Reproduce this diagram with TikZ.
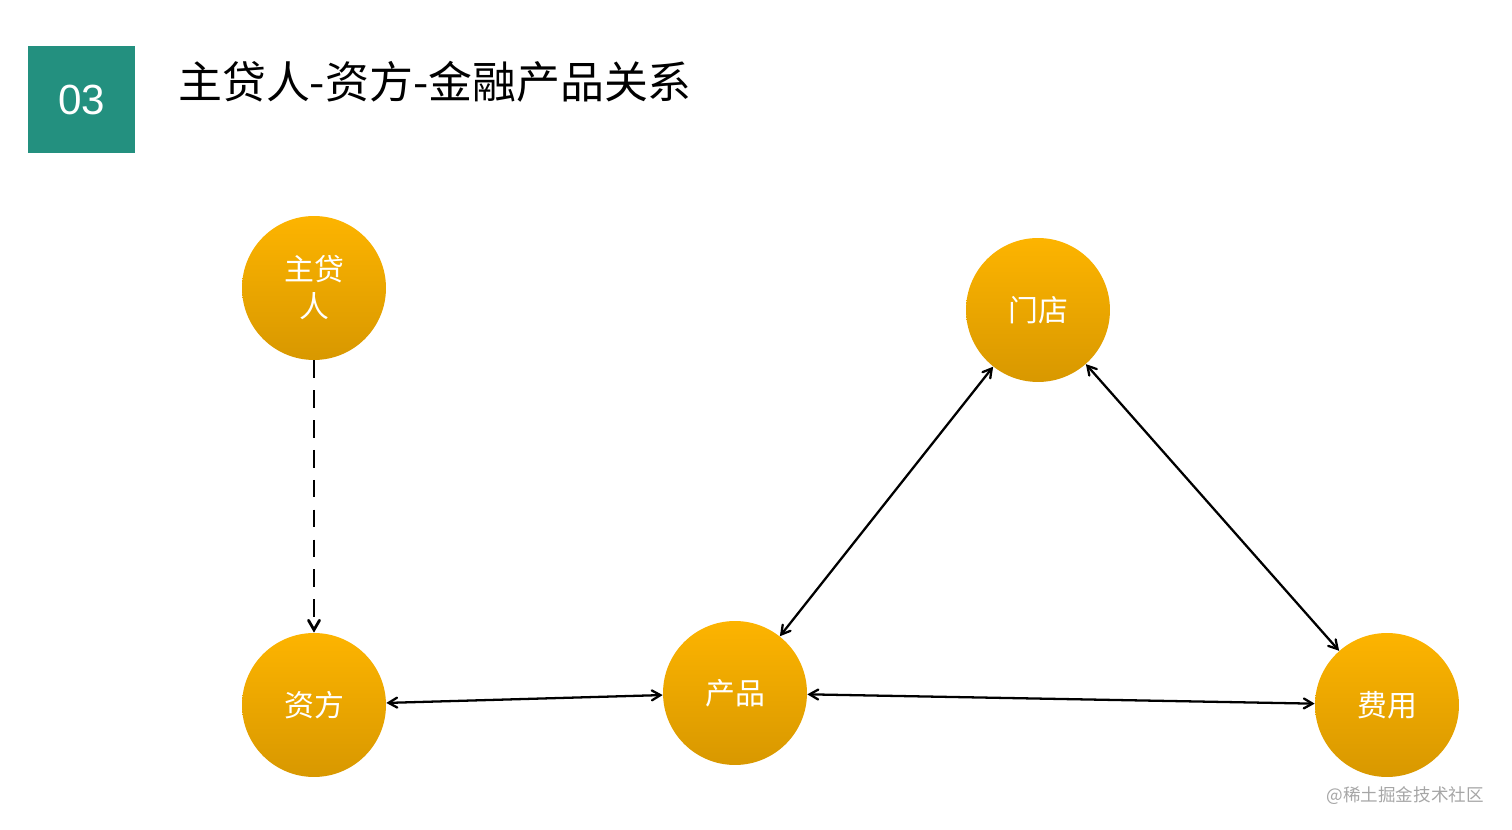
\documentclass[tikz,border=0pt]{standalone}
\usepackage{fontspec}
\setmainfont{Liberation Sans}
\newfontfamily\cjk{Noto Sans CJK SC}
\usetikzlibrary{arrows}
\definecolor{tealbox}{HTML}{23907F}
\definecolor{orangetop}{HTML}{FDB400}
\definecolor{orangebot}{HTML}{D89800}
\tikzstyle{entity} = [circle, minimum size=2.88cm, inner sep=0pt, top color=orangetop,
bottom color=orangebot, draw=none, text=white, align=center,
font=\cjk\fontsize{17}{21}\selectfont]
\tikzstyle{link} = [line width=1.3pt, <->, >=angle 60]

\begin{document}
\begin{tikzpicture}[x=0.02cm, y=-0.02cm]
\useasboundingbox (0,0) rectangle (1512,830);

% ------------------------- header -------------------------
\node(tag)[fill=tealbox, minimum size=2.14cm, inner sep=0pt, text=white,
font=\fontsize{24}{28}\selectfont] at (81.5,99.5) {03};
\node(title)[anchor=west, font=\cjk\fontsize{25}{30}\selectfont] at (172,82) {主贷人-资方-金融产品关系};

% ------------------------- nodes -------------------------
\node(lender)[entity] at (314,288) {主贷\\人};
\node(funder)[entity] at (314,705) {资方};
\node(product)[entity] at (735,693) {产品};
\node(store)[entity] at (1038,310) {门店};
\node(fee)[entity] at (1387,705) {费用};

% ------------------------- connections -------------------------
\draw[line width=1.6pt, dashed, dash pattern=on 10pt off 7pt, ->, >=angle 60](lender)--(funder);
\draw[link](funder)--(product);
\draw[link](product)--(store);
\draw[link](store)--(fee);
\draw[link](product)--(fee);

% ------------------------- watermark -------------------------
\node(mark)[anchor=east, text=gray!70, font=\cjk\fontsize{10}{12}\selectfont] at (1490,796) {@稀土掘金技术社区};
\end{tikzpicture}
\end{document}
